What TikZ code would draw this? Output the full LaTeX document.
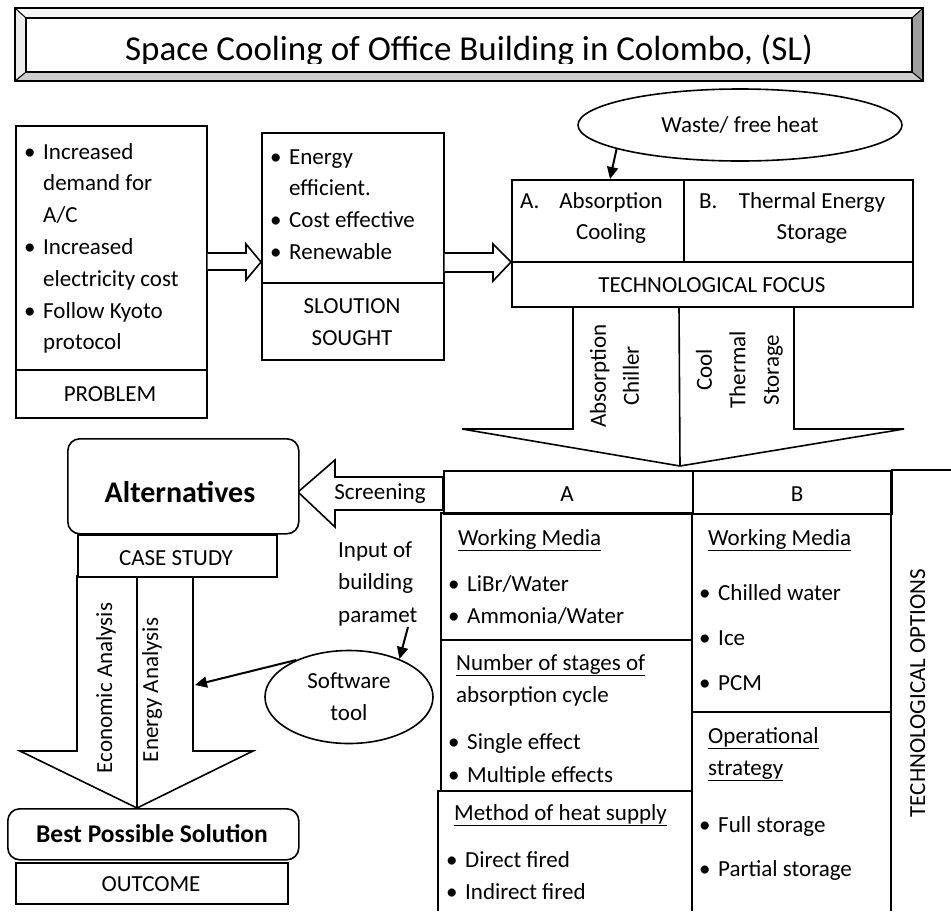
\documentclass[tikz,border=0pt]{standalone}
\usepackage{fontspec}
\setmainfont{Carlito}
\usetikzlibrary{arrows.meta,shapes.geometric}

\newcommand{\bul}{\makebox[19pt][l]{\textbullet}}
\newcommand{\nob}{\hspace*{19pt}}
\newcommand{\bodyfont}[1][31.8]{\fontsize{23}{#1}\selectfont}

\tikzset{
  box/.style={draw, line width=1.6pt, fill=white, anchor=north west, inner sep=0pt},
  rbox/.style={box, rounded corners=12pt},
  txt/.style={anchor=base west, inner sep=0pt, font=\bodyfont},
  ctxt/.style={anchor=base, inner sep=0pt, font=\bodyfont},
  blockarrow/.style={draw, line width=1.6pt, fill=white, line join=miter},
  arr/.style={line width=2pt, -{Triangle[length=12pt,width=11pt]}},
  bubble/.style={draw, line width=1.6pt, ellipse, inner sep=0pt, font={\bodyfont[32]}, align=center}
}

% box from upper left (x1,y1) to lower right (x2,y2)
\newcommand{\boxat}[6][box]{\node[#1, minimum width=#5-#3, minimum height=#6-#4] (#2) at (#3,#4) {};}

\begin{document}
\begin{tikzpicture}[x=1pt,y=-1pt]
\useasboundingbox (0,0) rectangle (951,911);

% title frame
\fill[gray!8] (15,8) -- (923,8) -- (912,18) -- (26,18) -- cycle;
\fill[gray!15] (15,8) -- (26,18) -- (26,72) -- (15,81) -- cycle;
\fill[gray!40] (15,81) -- (26,72) -- (912,72) -- (923,81) -- cycle;
\fill[gray!75] (923,8) -- (912,18) -- (912,72) -- (923,81) -- cycle;
\draw[line width=1.6pt] (15,8) rectangle (923,81);
\draw[line width=1.6pt] (26,18) rectangle (912,72);
\draw[line width=1pt] (15,8) -- (26,18) (923,8) -- (912,18) (15,81) -- (26,72) (923,81) -- (912,72);
\begin{scope}
  \clip (26,18) rectangle (912,63.5);
  \node[anchor=base, inner sep=0pt, font=\fontsize{35}{40}\selectfont] (title) at (469,60) {Space Cooling of Office Building in Colombo, (SL)};
\end{scope}

% problem
\boxat{prob}{15}{125}{206}{369}
\boxat{problab}{15}{369}{206}{417}
\node[ctxt] (problabtxt) at (110,401) {PROBLEM};
\node[txt] (probtxt) at (24,159) {\begin{tabular}[t]{@{}l@{}}
\bul Increased\\ \nob demand for\\ \nob A/C\\
\bul Increased\\ \nob electricity cost\\
\bul Follow Kyoto\\ \nob protocol\end{tabular}};

% solution sought
\boxat{sol}{261}{132}{443}{282}
\boxat{sollab}{261}{282}{443}{359}
\node[txt] (soltxt) at (270,164) {\begin{tabular}[t]{@{}l@{}}
\bul Energy\\ \nob efficient.\\ \bul Cost effective\\ \bul Renewable\end{tabular}};
\node[ctxt, font={\bodyfont[32]}] (sollabtxt) at (352,313) {\begin{tabular}[t]{@{}c@{}}SLOUTION\\SOUGHT\end{tabular}};

\draw[blockarrow] (prob.east |- 0,253) -- (246,253) -- (246,244) -- (sol.west |- 0,262)
  -- (246,280) -- (246,270) -- (prob.east |- 0,270);

% technological focus
\draw[blockarrow] (573,306) -- (794,306) -- (794,429) -- (904,429) -- (680,466)
  -- (462,429) -- (573,429) -- cycle;
\draw[line width=1.6pt] (679,306) -- (680,466);
\node[ctxt, rotate=90, font={\bodyfont[33]}] (abschil) at (622,376) {\begin{tabular}{@{}c@{}}Absorption\\Chiller\end{tabular}};
\node[ctxt, rotate=90, font={\bodyfont[33.5]}] (cts) at (745,370) {\begin{tabular}{@{}c@{}}Cool\\Thermal\\Storage\end{tabular}};

\boxat{tfa}{511}{179}{683}{261}
\boxat{tfb}{683}{179}{912}{261}
\boxat{tflab}{511}{261}{912}{306}
\draw[blockarrow] (sol.east |- 0,253) -- (493,253) -- (493,244) -- (tfa.west |- 0,262)
  -- (493,281) -- (493,272) -- (sol.east |- 0,272);
\node[txt] (tfanum) at (520,208) {A.};
\node[ctxt] (tfatxt) at (611,208) {\begin{tabular}[t]{@{}c@{}}Absorption\\Cooling\end{tabular}};
\node[txt] (tfbnum) at (699,208) {B.};
\node[ctxt] (tfbtxt) at (812,208) {\begin{tabular}[t]{@{}c@{}}Thermal Energy\\Storage\end{tabular}};
\node[ctxt] (tflabtxt) at (712,292) {TECHNOLOGICAL FOCUS};

\node[bubble, minimum width=324, minimum height=72] (waste) at (740,125) {Waste/ free heat};
\draw[arr] (waste.191) -- (tfa.north -| 610,0);

% alternatives and case study
\draw[blockarrow] (77,576) -- (193,576) -- (193,751) -- (253,751) -- (137,808)
  -- (20,751) -- (77,751) -- cycle;
\draw[line width=1.6pt] (137,576) -- (137,808);
\node[ctxt, rotate=90] (econ) at (112,688) {Economic Analysis};
\node[ctxt, rotate=90] (ener) at (158,690) {Energy Analysis};
\coordinate (enax) at (195,685);

\draw[blockarrow] (298,492) -- (335,460) -- (335,477) -- (443,477) -- (443,510)
  -- (335,510) -- (335,527) -- cycle;
\node[ctxt] (screen) at (380,499) {Screening};

\boxat[rbox]{alt}{67}{438}{298}{533}
\node[anchor=base, inner sep=0pt, font=\fontsize{30}{34}\selectfont\bfseries] (alttxt) at (180,502) {Alternatives};
\boxat{case}{77}{534}{276}{576}
\node[ctxt] (casetxt) at (176,565) {CASE STUDY};

\boxat[rbox]{best}{7}{808}{298}{859}
\node[anchor=base, inner sep=0pt, font=\fontsize{25.5}{30}\selectfont\bfseries] (besttxt) at (152,842) {Best Possible Solution};
\boxat{outc}{15}{862}{287}{903}
\node[ctxt] (outctxt) at (151,891) {OUTCOME};

\node[txt, font={\bodyfont[32.5]}] (input) at (338,557) {\begin{tabular}[t]{@{}l@{}}Input of\\building\\paramet\end{tabular}};
\coordinate (parend) at (408,627);
\node[bubble, minimum width=168, minimum height=93] (soft) at (349,697) {Software\\tool};
\draw[arr] (parend) -- (soft.37);
\draw[arr] (soft.145) -- (enax);

% technological options
\boxat{hda}{443}{470}{692}{513}
\boxat{hdb}{692}{470}{891}{513}
\node[ctxt] (hdatxt) at (567,501) {A};
\node[ctxt] (hdbtxt) at (797,501) {B};
\draw[line width=1.6pt] (891,470) -- (951,470) (891,470) -- (891,911);
\node[ctxt, rotate=90] (techopt) at (925,693) {TECHNOLOGICAL OPTIONS};

\draw[line width=1.6pt] (441,791) -- (441,513) -- (692,513) -- (692,911);
\draw[line width=1.6pt] (441,640) -- (692,640);
\draw[line width=1.6pt] (438,911) -- (438,791) -- (692,791);
\draw[line width=1.6pt] (692,712) -- (891,712);

\node[txt] (wma) at (458,545) {\underline{Working Media}};
\node[txt, font={\bodyfont[32]}] (wmalist) at (448,591) {\begin{tabular}[t]{@{}l@{}}\bul LiBr/Water\\ \bul Ammonia/Water\end{tabular}};
\node[txt, font={\bodyfont[32]}] (stages) at (456,670) {\begin{tabular}[t]{@{}l@{}}\underline{Number of stages of}\\absorption cycle\end{tabular}};
\begin{scope}
  \clip (441,700) rectangle (692,782.5);
  \node[txt, font={\bodyfont[33]}] (stagelist) at (448,749) {\begin{tabular}[t]{@{}l@{}}\bul Single effect\\ \bul Multiple effects\end{tabular}};
\end{scope}
\node[txt] (heat) at (454,820) {\underline{Method of heat supply}};
\node[txt, font={\bodyfont[32]}] (heatlist) at (446,867) {\begin{tabular}[t]{@{}l@{}}\bul Direct fired\\ \bul Indirect fired\end{tabular}};

\node[txt] (wmb) at (708,545) {\underline{Working Media}};
\node[txt, font={\bodyfont[32]}] (wmblist) at (699,600) {\begin{tabular}[t]{@{}l@{}}\bul Chilled water\\[13pt] \bul Ice\\[13pt] \bul PCM\end{tabular}};
\node[txt, font={\bodyfont[32]}] (oper) at (708,743) {\begin{tabular}[t]{@{}l@{}}\underline{Operational}\\\underline{strategy}\end{tabular}};
\node[txt, font={\bodyfont[32]}] (operlist) at (699,832) {\begin{tabular}[t]{@{}l@{}}\bul Full storage\\[12pt] \bul Partial storage\end{tabular}};

\end{tikzpicture}
\end{document}
